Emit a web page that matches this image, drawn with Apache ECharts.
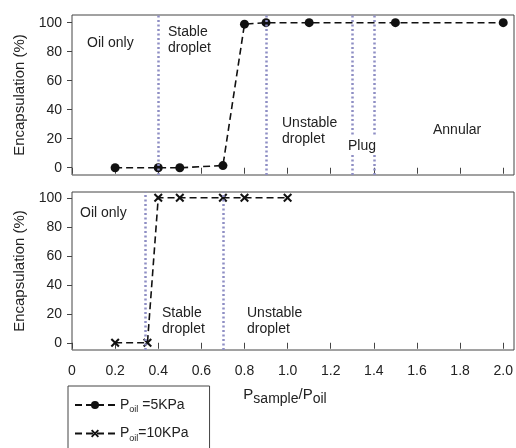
<!DOCTYPE html>
<html>
<head>
<meta charset="utf-8">
<script src="https://cdn.jsdelivr.net/npm/echarts@6/dist/echarts.min.js"></script>
<style>
  html, body { margin: 0; padding: 0; background: #fff; }
  #chart { width: 516px; height: 448px; }
</style>
</head>
<body>
<div id="chart"></div>
<script>
// Encapsulation vs. pressure ratio, two oil pressures
const ratio5 = [0.2, 0.4, 0.5, 0.7, 0.8, 0.9, 1.1, 1.5, 2.0];
const encap5 = [0, 0, 0, 1.5, 99, 100, 100, 100, 100];
const ratio10 = [0.2, 0.35, 0.4, 0.5, 0.7, 0.8, 1.0];
const encap10 = [0, 0, 100, 100, 100, 100, 100];

// regime boundaries (dotted verticals)
const boundaries5 = [0.4, 0.9, 1.3, 1.4];
const boundaries10 = [0.34, 0.7];

const xTicks = [0, 0.2, 0.4, 0.6, 0.8, 1.0, 1.2, 1.4, 1.6, 1.8, 2.0];
const yTicks = [0, 20, 40, 60, 80, 100];

const name5 = 'Poil =5KPa';
const name10 = 'Poil=10KPa';

const FONT = '"Liberation Sans", Arial, sans-serif';
const INK = '#222';
const FRAME = '#444';
const DOT = '#8e8ec4';

const crossPath = 'path://M0,1.6L1.6,0L5,3.4L8.4,0L10,1.6L6.6,5L10,8.4L8.4,10L5,6.6L1.6,10L0,8.4L3.4,5Z';

const pairs = (xs, ys) => xs.map((x, i) => [x, ys[i]]);

function yAxisFor(gridIndex, max) {
  return {
    type: 'value', gridIndex, min: -5, max,
    name: 'Encapsulation (%)', nameLocation: 'middle', nameGap: 40,
    nameTextStyle: { fontFamily: FONT, fontSize: 15, color: INK },
    axisLine: { show: false },
    splitLine: { show: false },
    axisTick: { show: true, length: 5, lineStyle: { color: FRAME }, customValues: yTicks },
    axisLabel: { fontFamily: FONT, fontSize: 14, color: INK, margin: 10, customValues: yTicks }
  };
}

function xAxisFor(gridIndex, withLabels) {
  return {
    type: 'value', gridIndex, min: 0, max: 2.05,
    axisLine: { show: false },
    splitLine: { show: false },
    axisTick: { show: true, length: 6, lineStyle: { color: FRAME }, customValues: xTicks },
    axisLabel: {
      show: withLabels, fontFamily: FONT, fontSize: 14, color: INK, margin: 14,
      customValues: xTicks,
      formatter: v => (v === 0 ? '0' : v.toFixed(1))
    },
    name: withLabels ? '{p|P}{s|sample}{p|/P}{s|oil}' : '',
    nameLocation: 'middle', nameGap: 34,
    nameTextStyle: {
      fontFamily: FONT, color: INK, padding: [0, 16, 0, 0],
      rich: {
        p: { fontFamily: FONT, fontSize: 15, color: INK },
        s: { fontFamily: FONT, fontSize: 14, color: INK, padding: [8, 0, 0, 0] }
      }
    }
  };
}

function boundaryLines(values) {
  return {
    silent: true, symbol: 'none', animation: false,
    label: { show: false },
    lineStyle: { color: DOT, width: 2.5, type: [2, 2.5], cap: 'butt' },
    data: values.map(v => ({ xAxis: v }))
  };
}

const lineStyle = { color: '#111', width: 1.6, type: [7, 4] };

const textStyle = { font: '14px ' + FONT, fill: INK, textVerticalAlign: 'middle', lineHeight: 16 };
function note(x, y, text, extra) {
  return { type: 'text', x, y, z: 100, style: Object.assign({ text }, textStyle, extra || {}) };
}

const option = {
  animation: false,
  backgroundColor: '#fff',
  grid: [
    { left: 72, top: 15, width: 442, height: 160, show: true, borderColor: FRAME, borderWidth: 1 },
    { left: 72, top: 192, width: 442, height: 158, show: true, borderColor: FRAME, borderWidth: 1 }
  ],
  xAxis: [xAxisFor(0, false), xAxisFor(1, true)],
  yAxis: [yAxisFor(0, 105.3), yAxisFor(1, 104)],
  legend: {
    orient: 'vertical', left: 68, top: 386, height: 120,
    data: [name5, name10],
    itemWidth: 40, itemHeight: 10, itemGap: 12,
    padding: [12, 21, 30, 6],
    borderColor: FRAME, borderWidth: 1,
    formatter: n => (n === name5 ? '{p|P}{s|oil}{p| =5KPa}' : '{p|P}{s|oil}{p|=10KPa}'),
    textStyle: {
      fontFamily: FONT, color: INK,
      rich: {
        p: { fontFamily: FONT, fontSize: 14, color: INK },
        s: { fontFamily: FONT, fontSize: 9, color: INK, padding: [10, 0, 0, 0] }
      }
    }
  },
  series: [
    {
      name: name5, type: 'line', xAxisIndex: 0, yAxisIndex: 0,
      data: pairs(ratio5, encap5),
      symbol: 'circle', symbolSize: 9,
      itemStyle: { color: '#111' },
      lineStyle,
      markLine: boundaryLines(boundaries5)
    },
    {
      name: name10, type: 'line', xAxisIndex: 1, yAxisIndex: 1,
      data: pairs(ratio10, encap10),
      symbol: crossPath, symbolSize: 9,
      itemStyle: { color: '#111' },
      lineStyle,
      markLine: boundaryLines(boundaries10)
    }
  ],
  graphic: [
    note(87, 43, 'Oil only'),
    note(168, 40, 'Stable\ndroplet'),
    note(282, 131, 'Unstable\ndroplet'),
    note(348, 146, 'Plug', { backgroundColor: '#fff', padding: [1, 0, 1, 0] }),
    note(433, 130, 'Annular'),
    note(80, 213, 'Oil only'),
    note(162, 321, 'Stable\ndroplet'),
    note(247, 321, 'Unstable\ndroplet')
  ]
};

const chart = echarts.init(document.getElementById('chart'), null, { renderer: 'canvas' });
chart.setOption(option);
</script>
</body>
</html>
